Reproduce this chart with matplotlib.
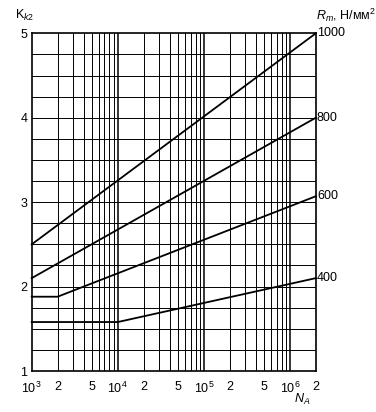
import matplotlib
matplotlib.use("Agg")
import matplotlib.pyplot as plt
from matplotlib.ticker import FixedLocator, NullFormatter

plt.rcParams['font.family'] = ['Liberation Sans', 'DejaVu Sans']
plt.rcParams['mathtext.fontset'] = 'custom'
plt.rcParams['mathtext.rm'] = 'Liberation Sans'
plt.rcParams['mathtext.it'] = 'Liberation Sans:italic'

# curves K_k2 vs N_A for different Rm
rm_labels = ['1000', '800', '600', '400']
n_pts = [
    [1e3, 2e6],
    [1e3, 2e6],
    [1e3, 2e3, 2e6],
    [1e3, 1e4, 2e6],
]
k_pts = [
    [2.5, 5.0],
    [2.1, 4.0],
    [1.88, 1.88, 3.07],
    [1.58, 1.58, 2.1],
]

xtick_vals = [1e3, 2e3, 5e3, 1e4, 2e4, 5e4, 1e5, 2e5, 5e5, 1e6, 2e6]
xtick_text = ['$10^3$', '2', '5', '$10^4$', '2', '5', '$10^5$', '2', '5', '$10^6$', '2']

fig = plt.figure(figsize=(3.76, 4.12), dpi=100)
ax = fig.add_axes([0.0843, 0.0995, 0.7557, 0.8197])
ax.set_xscale('log')
ax.set_xlim(1e3, 2e6)
ax.set_ylim(1, 5)

# grid
minor = [m * 10 ** e for e in range(3, 7) for m in range(2, 10) if m * 10 ** e < 2e6]
for v in minor:
    ax.axvline(v, color='black', lw=0.7, zorder=1)
for v in [1e4, 1e5, 1e6]:
    ax.axvline(v, color='black', lw=1.1, zorder=1)
for i in range(1, 16):
    ax.axhline(1 + 0.25 * i, color='black', lw=0.7, zorder=1)

for xs, ys, lab in zip(n_pts, k_pts, rm_labels):
    ax.plot(xs, ys, color='black', lw=1.3, zorder=3, clip_on=False)
    ax.text(xs[-1] * 1.03, ys[-1], lab, fontsize=9, va='center', ha='left')

for s in ax.spines.values():
    s.set_linewidth(1.2)

ax.xaxis.set_major_locator(FixedLocator(xtick_vals))
ax.xaxis.set_minor_formatter(NullFormatter())
ax.set_xticks(xtick_vals)
ax.set_xticklabels(xtick_text)
ax.tick_params(axis='x', which='both', length=0, labelsize=9, pad=7)
ax.set_yticks([1, 2, 3, 4, 5])
ax.tick_params(axis='y', length=0, labelsize=9, pad=3)

fig.text(0.04, 0.962, r'K$_{k2}$', fontsize=9, ha='left', va='center')
fig.text(0.84, 0.962, r'$R_m$, Н/мм$^2$', fontsize=9, ha='left', va='center')
fig.text(0.805, 0.03, r'$N_A$', fontsize=9, ha='center', va='center')

fig.savefig('out.png', dpi=100)
